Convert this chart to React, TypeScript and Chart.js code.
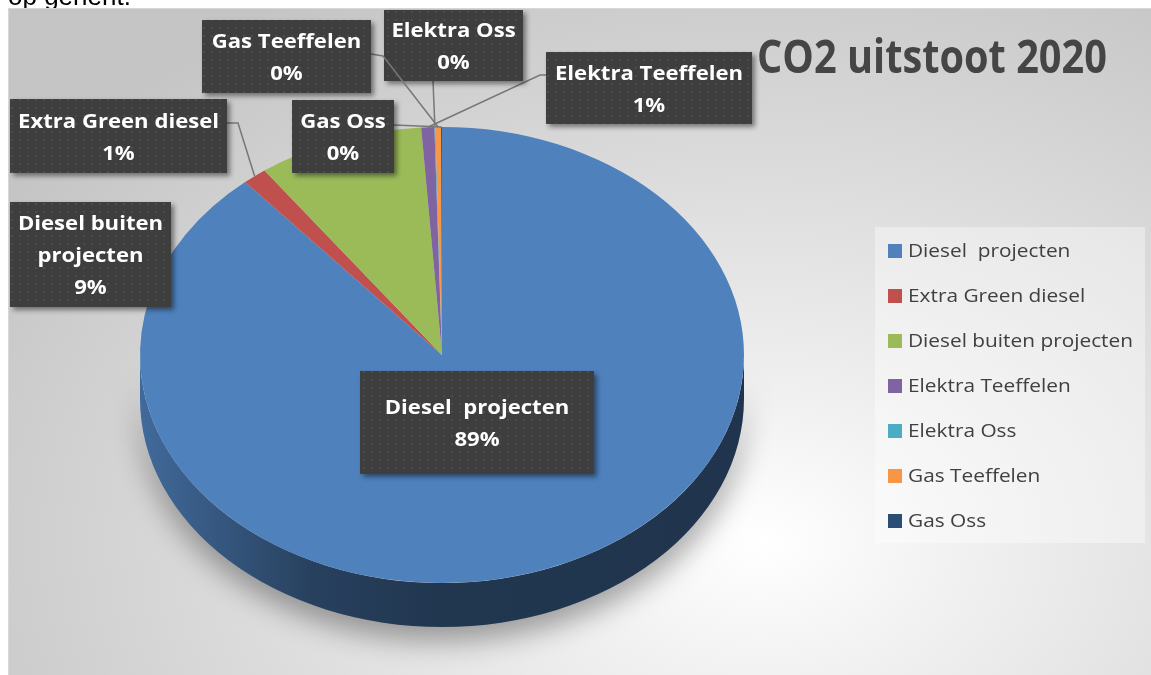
import React, { useEffect, useRef } from "react";
import { Chart, registerables } from "chart.js";

Chart.register(...registerables);

// ---- data ----
const categories = [
  "Diesel  projecten",
  "Extra Green diesel",
  "Diesel buiten projecten",
  "Elektra Teeffelen",
  "Elektra Oss",
  "Gas Teeffelen",
  "Gas Oss",
];
const shares = [88.7, 1.3, 8.9, 0.7, 0.05, 0.3, 0.05];
const sliceColors = ["#4F81BD", "#C0504D", "#9BBB59", "#8064A2", "#4BACC6", "#F79646", "#2C4D75"];
const chartTitle = "CO2 uitstoot 2020";

// ---- layout (canvas px) ----
const W = 1143;
const H = 667;
const PIE_R = 302;
const PIE_CX = 434;
const FACE_CY = 347;
const TILT = 0.755;
const DEPTH = 44;

type Box = { x: number; y: number; w: number; h: number; attach?: number[]; elbow?: number[] };
const labelBoxes: Box[] = [
  { x: 352, y: 363, w: 234, h: 103 },
  { x: 2, y: 91, w: 217, h: 74, attach: [219, 115], elbow: [230, 115] },
  { x: 2, y: 194, w: 161, h: 105 },
  { x: 538, y: 44, w: 206, h: 72, attach: [538, 67], elbow: [532, 67] },
  { x: 376, y: 2, w: 139, h: 71, attach: [425, 73], elbow: [425, 73] },
  { x: 194, y: 12, w: 169, h: 73, attach: [363, 46], elbow: [375, 48] },
  { x: 284, y: 92, w: 102, h: 73, attach: [386, 117], elbow: [386, 117] },
];

function shade(hex: string, f: number) {
  const n = parseInt(hex.slice(1), 16);
  const r = Math.round(((n >> 16) & 255) * f);
  const g = Math.round(((n >> 8) & 255) * f);
  const b = Math.round((n & 255) * f);
  return `rgb(${r},${g},${b})`;
}

function makePattern(ctx: CanvasRenderingContext2D) {
  const c = document.createElement("canvas");
  c.width = 8;
  c.height = 8;
  const p = c.getContext("2d")!;
  p.fillStyle = "#3e3e3e";
  p.fillRect(0, 0, 8, 8);
  p.fillStyle = "#4c4c4c";
  p.fillRect(3, 3, 2, 2);
  return ctx.createPattern(c, "repeat")!;
}

function wrap(ctx: CanvasRenderingContext2D, text: string, maxW: number, sx: number) {
  const words = text.split(" ");
  const lines: string[] = [];
  let cur = "";
  for (let i = 0; i < words.length; i++) {
    const w = words[i];
    const test = cur === "" ? w : cur + " " + w;
    if (cur !== "" && w !== "" && ctx.measureText(test).width * sx > maxW) {
      lines.push(cur);
      cur = w;
    } else {
      cur = test;
    }
  }
  if (cur !== "") lines.push(cur);
  return lines;
}

const pie3d = {
  id: "pie3d",
  beforeDatasetsDraw(chart: any) {
    const ctx: CanvasRenderingContext2D = chart.ctx;
    const meta = chart.getDatasetMeta(0);
    const a0 = meta.data[0];
    const cx = a0.x;
    const cy = a0.y;
    const r = a0.outerRadius;
    ctx.save();
    ctx.translate(cx, FACE_CY);
    ctx.scale(1, TILT);
    ctx.translate(-cx, -cy);
    const dz = DEPTH / TILT;
    meta.data.forEach((arc: any, i: number) => {
      const a = Math.max(arc.startAngle, 0);
      const b = Math.min(arc.endAngle, Math.PI);
      if (b <= a) return;
      const col = sliceColors[i];
      const g = ctx.createLinearGradient(cx - r, 0, cx + r, 0);
      g.addColorStop(0, shade(col, 0.82));
      g.addColorStop(0.28, shade(col, 0.5));
      g.addColorStop(0.5, shade(col, 0.42));
      g.addColorStop(1, shade(col, 0.41));
      ctx.save();
      ctx.shadowColor = "rgba(0,0,0,0.35)";
      ctx.shadowBlur = 28;
      ctx.shadowOffsetY = 14;
      ctx.beginPath();
      ctx.arc(cx, cy, r, a, b);
      ctx.arc(cx, cy + dz, r, b, a, true);
      ctx.closePath();
      ctx.fillStyle = g;
      ctx.fill();
      ctx.restore();
    });
  },
  afterDatasetsDraw(chart: any) {
    const ctx: CanvasRenderingContext2D = chart.ctx;
    ctx.restore();
    const meta = chart.getDatasetMeta(0);
    const a0 = meta.data[0];
    const cx = a0.x;
    const r = a0.outerRadius;
    const total = shares.reduce((s, v) => s + v, 0);
    const pattern = makePattern(ctx);
    ctx.save();
    ctx.font = "bold 20px 'Open Sans'";
    const sx = 201 / ctx.measureText("Extra Green diesel").width;
    meta.data.forEach((arc: any, i: number) => {
      const bx = labelBoxes[i];
      if (!bx) return;
      const mid = (arc.startAngle + arc.endAngle) / 2;
      const ax = cx + r * Math.cos(mid);
      const ay = FACE_CY + r * TILT * Math.sin(mid);
      if (bx.attach && bx.elbow) {
        ctx.beginPath();
        ctx.moveTo(bx.attach[0], bx.attach[1]);
        ctx.lineTo(bx.elbow[0], bx.elbow[1]);
        ctx.lineTo(ax, ay);
        ctx.strokeStyle = "#777777";
        ctx.lineWidth = 1.5;
        ctx.stroke();
      }
      ctx.save();
      ctx.shadowColor = "rgba(0,0,0,0.45)";
      ctx.shadowBlur = 5;
      ctx.shadowOffsetX = 3;
      ctx.shadowOffsetY = 3;
      ctx.fillStyle = pattern;
      ctx.fillRect(bx.x, bx.y, bx.w, bx.h);
      ctx.restore();
      const lines = wrap(ctx, categories[i], bx.w - 4, sx);
      lines.push(Math.round((shares[i] / total) * 100) + "%");
      const lh = 32;
      const ccx = bx.x + bx.w / 2;
      const ccy = bx.y + bx.h / 2 + 2;
      ctx.fillStyle = "#ffffff";
      ctx.textAlign = "center";
      ctx.textBaseline = "middle";
      lines.forEach((ln, k) => {
        const y = ccy + (k - (lines.length - 1) / 2) * lh;
        ctx.save();
        ctx.translate(ccx, y);
        ctx.scale(sx, 1);
        ctx.fillText(ln, 0, 0);
        ctx.restore();
      });
    });
    ctx.restore();
  },
  afterDraw(chart: any) {
    const ctx: CanvasRenderingContext2D = chart.ctx;
    ctx.save();
    // title
    ctx.font = "bold 46px 'Open Sans'";
    ctx.fillStyle = "#454545";
    ctx.textAlign = "left";
    ctx.textBaseline = "alphabetic";
    const tw = ctx.measureText(chartTitle).width;
    ctx.save();
    ctx.translate(749, 65);
    ctx.scale(350 / tw, 1);
    ctx.fillText(chartTitle, 0, 0);
    ctx.restore();
    // legend
    ctx.fillStyle = "rgba(255,255,255,0.38)";
    ctx.fillRect(867, 219, 270, 316);
    ctx.font = "18px 'Open Sans'";
    const lsx = 225 / ctx.measureText("Diesel buiten projecten").width;
    categories.forEach((c, i) => {
      const y = 236 + i * 45;
      ctx.fillStyle = sliceColors[i];
      ctx.fillRect(880, y, 14, 14);
      ctx.fillStyle = "#404040";
      ctx.save();
      ctx.translate(900, y + 13);
      ctx.scale(lsx, 1);
      ctx.fillText(c, 0, 0);
      ctx.restore();
    });
    ctx.restore();
  },
};

export default function App() {
  const ref = useRef<HTMLCanvasElement>(null);
  useEffect(() => {
    const chart = new Chart(ref.current!, {
      type: "pie",
      data: {
        labels: categories,
        datasets: [
          {
            data: shares,
            backgroundColor: sliceColors,
            borderWidth: 0,
            hoverOffset: 0,
            radius: PIE_R,
          } as any,
        ],
      },
      options: {
        responsive: false,
        animation: false,
        events: [],
        layout: {
          padding: { left: PIE_CX - PIE_R, right: W - (PIE_CX + PIE_R), top: 30, bottom: 33 },
        },
        plugins: {
          legend: { display: false },
          title: { display: false },
          tooltip: { enabled: false },
        },
      } as any,
      plugins: [pie3d],
    });
    return () => chart.destroy();
  }, []);
  return (
    <>
      <div
        style={{
          position: "fixed",
          left: 8,
          top: -19,
          font: "26px 'Liberation Sans', Arial, sans-serif",
          color: "#000",
          whiteSpace: "nowrap",
        }}
      >
        op gehent.
      </div>
      <div
        style={{
          position: "fixed",
          left: 8,
          top: 8,
          width: W,
          height: H,
          background:
            "radial-gradient(ellipse 78% 95% at 66% 80%, #ffffff 0%, #f1f1f1 22%, #dcdcdc 58%, #c5c5c5 100%)",
          boxShadow: "inset 1px 1px 0 #d8d8d8",
        }}
      >
        <canvas ref={ref} width={W} height={H} style={{ display: "block" }} />
      </div>
    </>
  );
}
